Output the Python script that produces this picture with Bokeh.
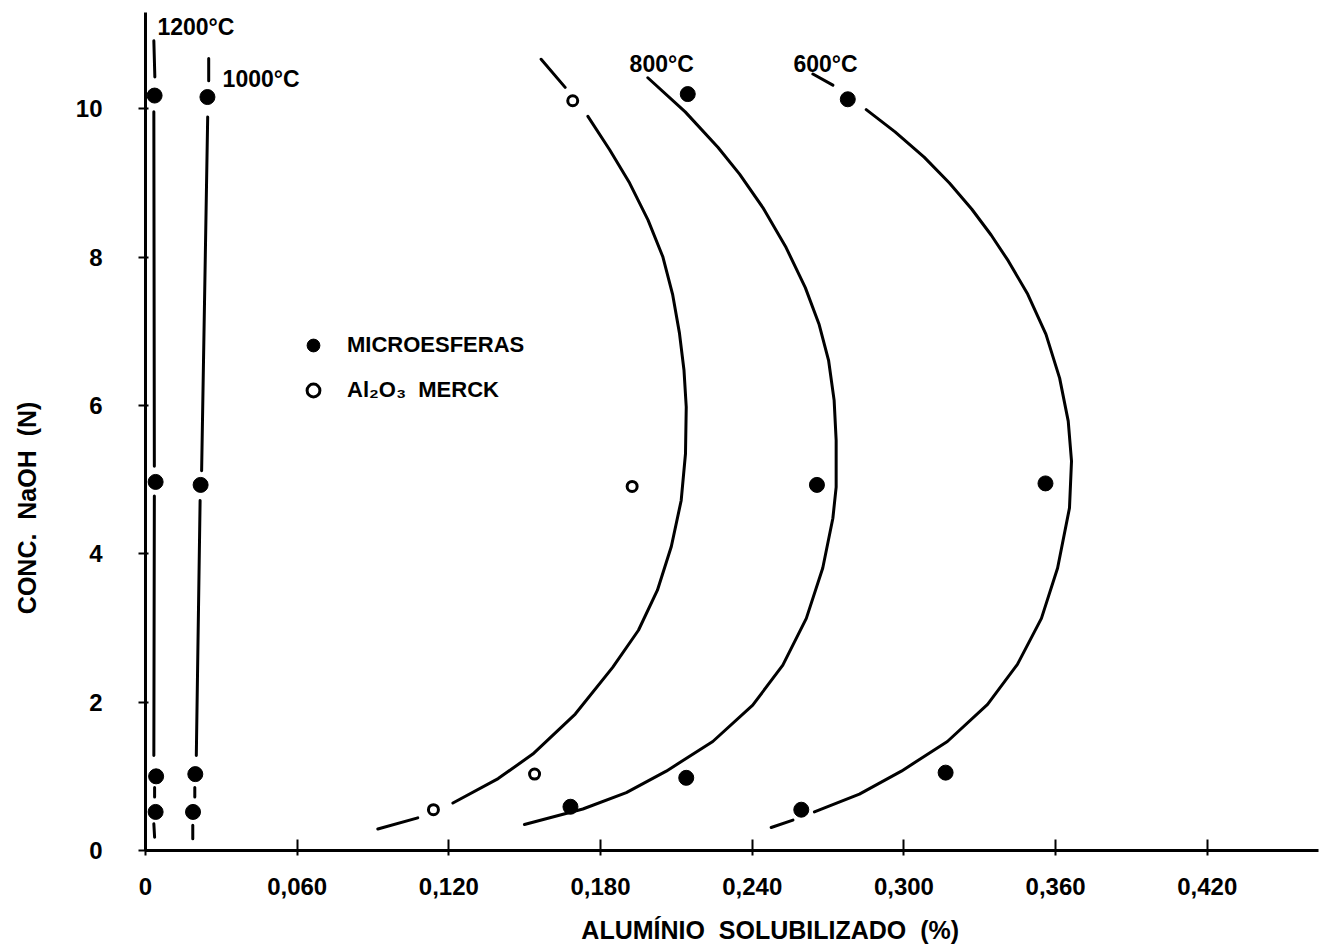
from bokeh.plotting import figure
from bokeh.models import FixedTicker, Label, Legend, LegendItem, Range1d
from bokeh.embed import file_html
from bokeh.resources import INLINE

nan = float("nan")
NB = "\u00a0"

# ---- axes ----
x_ticks = [0.0, 0.06, 0.12, 0.18, 0.24, 0.30, 0.36, 0.42]
x_tick_labels = ["0", "0,060", "0,120", "0,180", "0,240", "0,300", "0,360", "0,420"]
y_ticks = [0, 2, 4, 6, 8, 10]
x_title = "ALUMÍNIO" + NB + NB + "SOLUBILIZADO" + NB + NB + "(%)"
y_title = "CONC." + NB + NB + "NaOH" + NB + NB + "(N)"

# ---- measured points (Aluminio solubilizado %, NaOH N) ----
micro_1200_x = [0.0036, 0.0040, 0.0042, 0.0040]
micro_1200_y = [10.18, 4.97, 1.00, 0.52]
micro_1000_x = [0.0245, 0.0218, 0.0197, 0.0188]
micro_1000_y = [10.16, 4.93, 1.03, 0.52]
micro_800_x = [0.2145, 0.2656, 0.2139, 0.1681]
micro_800_y = [10.20, 4.93, 0.98, 0.59]
micro_600_x = [0.2778, 0.3560, 0.3165, 0.2594]
micro_600_y = [10.13, 4.95, 1.05, 0.55]
merck_x = [0.1690, 0.1925, 0.1539, 0.1139]
merck_y = [10.11, 4.91, 1.03, 0.55]

# ---- hand-drawn curves (NaN = break in the line) ----
curve_1200_x = [0.0033, 0.0037, nan, 0.0033, 0.0035, nan, 0.0035, 0.0033, nan,
                0.0036, 0.0036, nan, 0.0033, 0.0036]
curve_1200_y = [10.92, 10.43, nan, 9.96, 5.18, nan, 4.78, 1.28, nan,
                0.85, 0.72, nan, 0.36, 0.18]
curve_1000_x = [0.0250, 0.0250, nan, 0.0246, 0.0222, nan, 0.0216, 0.0201, nan,
                0.0195, 0.0195, nan, 0.0187, 0.0187]
curve_1000_y = [10.68, 10.38, nan, 9.89, 5.12, nan, 4.72, 1.28, nan,
                0.85, 0.72, nan, 0.34, 0.16]
curve_merck_x = [0.1565, 0.1660, nan,
                 0.1750, 0.1836, 0.1915, 0.1988, 0.2046, 0.2085, 0.2112, 0.2130,
                 0.2139, 0.2136, 0.2119, 0.2080, 0.2025, 0.1950, 0.1848, 0.1700,
                 0.1532, 0.1395, 0.1216, nan, 0.1077, 0.0919]
curve_merck_y = [10.67, 10.29, nan,
                 9.90, 9.45, 9.00, 8.50, 8.01, 7.50, 6.98, 6.48,
                 5.98, 5.35, 4.72, 4.10, 3.51, 2.97, 2.47, 1.84,
                 1.30, 0.97, 0.64, nan, 0.44, 0.29]
curve_800_x = [0.1987, 0.2135, 0.2265, 0.2350, 0.2442, 0.2534, 0.2610, 0.2664,
               0.2702, 0.2724, 0.2732, 0.2732, 0.2719, 0.2679, 0.2614, 0.2521,
               0.2402, 0.2244, 0.2060, 0.1902, 0.1730, 0.1499]
curve_800_y = [10.42, 9.96, 9.48, 9.12, 8.67, 8.13, 7.59, 7.10,
               6.61, 6.07, 5.53, 4.90, 4.48, 3.81, 3.13, 2.50,
               1.96, 1.47, 1.07, 0.78, 0.56, 0.35]
curve_600_x = [0.2640, 0.2719, nan,
               0.2851, 0.2965, 0.3080, 0.3180, 0.3268, 0.3345, 0.3413, 0.3490,
               0.3562, 0.3616, 0.3650, 0.3663, 0.3655, 0.3608, 0.3544, 0.3449,
               0.3331, 0.3172, 0.2990, 0.2824, 0.2646, nan, 0.2561, 0.2475]
curve_600_y = [10.47, 10.32, nan,
               9.99, 9.69, 9.35, 9.00, 8.65, 8.30, 7.95, 7.50,
               6.96, 6.37, 5.79, 5.25, 4.62, 3.81, 3.13, 2.51,
               1.97, 1.47, 1.07, 0.76, 0.52, nan, 0.41, 0.31]

temp_labels = ["1200°C", "1000°C", "800°C", "600°C"]
temp_label_x = [0.0047, 0.0305, 0.1915, 0.2563]
temp_label_y = [11.10, 10.40, 10.60, 10.60]

FONT = "Liberation Sans"
BLACK = "#000000"

p = figure(width=1326, height=947, output_backend="svg", toolbar_location=None,
           x_range=Range1d(0, 0.464), y_range=Range1d(0, 11.3),
           min_border_left=145, min_border_right=8, min_border_top=12,
           min_border_bottom=97)
p.outline_line_color = None
p.xgrid.visible = False
p.ygrid.visible = False
p.background_fill_color = "white"

for ax in (p.xaxis[0], p.yaxis[0]):
    ax.axis_line_width = 3
    ax.axis_line_color = BLACK
    ax.major_tick_line_width = 2
    ax.major_tick_line_color = BLACK
    ax.minor_tick_line_color = None
    ax.major_label_text_font = FONT
    ax.major_label_text_font_style = "bold"
    ax.major_label_text_font_size = "24px"
    ax.major_label_text_color = BLACK
    ax.axis_label_text_font = FONT
    ax.axis_label_text_font_style = "bold"
    ax.axis_label_text_font_size = "25px"
    ax.axis_label_text_color = BLACK

p.xaxis.ticker = FixedTicker(ticks=x_ticks)
p.xaxis.major_label_overrides = {t: s for t, s in zip(x_ticks, x_tick_labels)}
p.xaxis.major_tick_in = 11
p.xaxis.major_tick_out = 5
p.xaxis.major_label_standoff = 22
# leading no-break spaces move the centred title right, as in the original
p.xaxis.axis_label = NB * 11 + x_title
p.xaxis.axis_label_standoff = 18

p.yaxis.ticker = FixedTicker(ticks=y_ticks)
p.yaxis.major_tick_in = 3
p.yaxis.major_tick_out = 7
p.yaxis.major_label_standoff = 36
# trailing no-break spaces move the centred title down, as in the original
p.yaxis.axis_label = y_title + NB * 22
p.yaxis.axis_label_standoff = 32

# curves
for cx, cy in [(curve_1200_x, curve_1200_y), (curve_1000_x, curve_1000_y),
               (curve_merck_x, curve_merck_y), (curve_800_x, curve_800_y),
               (curve_600_x, curve_600_y)]:
    p.line(cx, cy, line_color=BLACK, line_width=3, line_cap="round",
           line_join="round")

# points
filled = []
for mx, my in [(micro_1200_x, micro_1200_y), (micro_1000_x, micro_1000_y),
               (micro_800_x, micro_800_y), (micro_600_x, micro_600_y)]:
    r = p.scatter(mx, my, size=15, marker="circle", fill_color=BLACK, line_color=BLACK)
    filled.append(r)
r_merck = p.scatter(merck_x, merck_y, size=10, marker="circle", fill_color="white",
                    line_color=BLACK, line_width=3)

legend = Legend(items=[LegendItem(label="MICROESFERAS", renderers=[filled[0]]),
                       LegendItem(label="Al₂O₃" + NB + NB + "MERCK", renderers=[r_merck])],
                location=(152, 444), orientation="vertical",
                glyph_width=32, glyph_height=32, label_height=32,
                label_standoff=18, spacing=13, padding=0, margin=0,
                border_line_color=None, background_fill_alpha=0,
                label_text_font=FONT, label_text_font_style="bold",
                label_text_font_size="22px", label_text_color=BLACK)
p.add_layout(legend)

for t, lx, ly in zip(temp_labels, temp_label_x, temp_label_y):
    p.add_layout(Label(x=lx, y=ly, text=t, text_font=FONT, text_font_style="bold",
                       text_font_size="23px", text_baseline="middle",
                       text_align="left", text_color=BLACK))

open("out.html", "w").write(file_html(p, INLINE))
